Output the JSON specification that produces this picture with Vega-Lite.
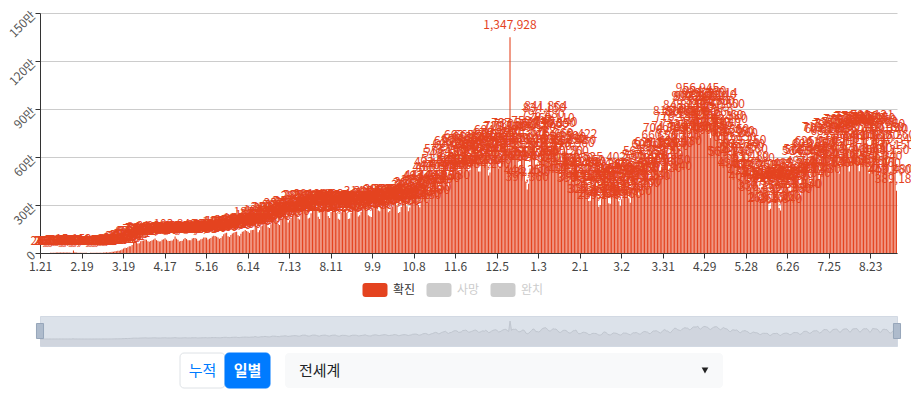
{
"$schema":"https://vega.github.io/schema/vega-lite/v6.json",
"padding":{"left":6,"top":8,"right":-8,"bottom":7},
"autosize":{"type":"pad"},
"background":"white",
"bounds":"flush",
"spacing":0,
"config":{"view":{"stroke":null},"font":"Noto Sans CJK KR","axis":{"labelFont":"Noto Sans CJK KR"},"text":{"font":"Noto Sans CJK KR"}},
"datasets":{"daily":[
{"d":"2020-01-21","v":282},{"d":"2020-01-22","v":32},{"d":"2020-01-23","v":267},{"d":"2020-01-24","v":265},{"d":"2020-01-25","v":468},{"d":"2020-01-26","v":693},{"d":"2020-01-27","v":776},{"d":"2020-01-28","v":1460},{"d":"2020-01-29","v":1739},{"d":"2020-01-30","v":1984},{"d":"2020-01-31","v":2101},
{"d":"2020-02-01","v":2590},{"d":"2020-02-02","v":2829},{"d":"2020-02-03","v":3235},{"d":"2020-02-04","v":3887},{"d":"2020-02-05","v":3697},{"d":"2020-02-06","v":3151},{"d":"2020-02-07","v":3387},{"d":"2020-02-08","v":2653},{"d":"2020-02-09","v":3001},{"d":"2020-02-10","v":2568},{"d":"2020-02-11","v":2034},{"d":"2020-02-12","v":1881},{"d":"2020-02-13","v":15152},{"d":"2020-02-14","v":4050},{"d":"2020-02-15","v":2644},{"d":"2020-02-16","v":2077},{"d":"2020-02-17","v":2097},{"d":"2020-02-18","v":1897},{"d":"2020-02-19","v":1751},{"d":"2020-02-20","v":850},{"d":"2020-02-21","v":1002},{"d":"2020-02-22","v":1009},{"d":"2020-02-23","v":649},{"d":"2020-02-24","v":417},{"d":"2020-02-25","v":889},{"d":"2020-02-26","v":929},{"d":"2020-02-27","v":1095},{"d":"2020-02-28","v":1289},{"d":"2020-02-29","v":1839},
{"d":"2020-03-01","v":1743},{"d":"2020-03-02","v":1804},{"d":"2020-03-03","v":2239},{"d":"2020-03-04","v":2238},{"d":"2020-03-05","v":2729},{"d":"2020-03-06","v":3882},{"d":"2020-03-07","v":3975},{"d":"2020-03-08","v":3722},{"d":"2020-03-09","v":3985},{"d":"2020-03-10","v":4395},{"d":"2020-03-11","v":7314},{"d":"2020-03-12","v":7669},{"d":"2020-03-13","v":10542},{"d":"2020-03-14","v":10904},{"d":"2020-03-15","v":13287},{"d":"2020-03-16","v":14541},{"d":"2020-03-17","v":16843},{"d":"2020-03-18","v":21578},{"d":"2020-03-19","v":28814},{"d":"2020-03-20","v":33281},{"d":"2020-03-21","v":31802},{"d":"2020-03-22","v":35187},{"d":"2020-03-23","v":41567},{"d":"2020-03-24","v":42009},{"d":"2020-03-25","v":49531},{"d":"2020-03-26","v":62380},{"d":"2020-03-27","v":64857},{"d":"2020-03-28","v":64932},{"d":"2020-03-29","v":59412},{"d":"2020-03-30","v":61275},{"d":"2020-03-31","v":73950},
{"d":"2020-04-01","v":77065},{"d":"2020-04-02","v":78420},{"d":"2020-04-03","v":84502},{"d":"2020-04-04","v":82610},{"d":"2020-04-05","v":73214},{"d":"2020-04-06","v":70180},{"d":"2020-04-07","v":75640},{"d":"2020-04-08","v":80320},{"d":"2020-04-09","v":85120},{"d":"2020-04-10","v":91284},{"d":"2020-04-11","v":80450},{"d":"2020-04-12","v":75980},{"d":"2020-04-13","v":71820},{"d":"2020-04-14","v":73510},{"d":"2020-04-15","v":82160},{"d":"2020-04-16","v":85340},{"d":"2020-04-17","v":91620},{"d":"2020-04-18","v":83250},{"d":"2020-04-19","v":77140},{"d":"2020-04-20","v":75480},{"d":"2020-04-21","v":76230},{"d":"2020-04-22","v":78560},{"d":"2020-04-23","v":86120},{"d":"2020-04-24","v":103840},{"d":"2020-04-25","v":89210},{"d":"2020-04-26","v":82340},{"d":"2020-04-27","v":72150},{"d":"2020-04-28","v":75620},{"d":"2020-04-29","v":77310},{"d":"2020-04-30","v":86450},
{"d":"2020-05-01","v":93180},{"d":"2020-05-02","v":87250},{"d":"2020-05-03","v":79410},{"d":"2020-05-04","v":78920},{"d":"2020-05-05","v":79350},{"d":"2020-05-06","v":90120},{"d":"2020-05-07","v":93450},{"d":"2020-05-08","v":94210},{"d":"2020-05-09","v":89340},{"d":"2020-05-10","v":77260},{"d":"2020-05-11","v":77480},{"d":"2020-05-12","v":85190},{"d":"2020-05-13","v":88320},{"d":"2020-05-14","v":96140},{"d":"2020-05-15","v":97480},{"d":"2020-05-16","v":95870},{"d":"2020-05-17","v":84320},{"d":"2020-05-18","v":89150},{"d":"2020-05-19","v":94280},{"d":"2020-05-20","v":103210},{"d":"2020-05-21","v":107340},{"d":"2020-05-22","v":106820},{"d":"2020-05-23","v":102150},{"d":"2020-05-24","v":96430},{"d":"2020-05-25","v":89260},{"d":"2020-05-26","v":94180},{"d":"2020-05-27","v":105320},{"d":"2020-05-28","v":117850},{"d":"2020-05-29","v":123460},{"d":"2020-05-30","v":127150},{"d":"2020-05-31","v":104320},
{"d":"2020-06-01","v":100460},{"d":"2020-06-02","v":112350},{"d":"2020-06-03","v":121480},{"d":"2020-06-04","v":127310},{"d":"2020-06-05","v":131250},{"d":"2020-06-06","v":133480},{"d":"2020-06-07","v":110240},{"d":"2020-06-08","v":105130},{"d":"2020-06-09","v":120360},{"d":"2020-06-10","v":133250},{"d":"2020-06-11","v":136480},{"d":"2020-06-12","v":143820},{"d":"2020-06-13","v":138260},{"d":"2020-06-14","v":132150},{"d":"2020-06-15","v":125340},{"d":"2020-06-16","v":142180},{"d":"2020-06-17","v":143460},{"d":"2020-06-18","v":145320},{"d":"2020-06-19","v":181230},{"d":"2020-06-20","v":160140},{"d":"2020-06-21","v":130250},{"d":"2020-06-22","v":142310},{"d":"2020-06-23","v":167420},{"d":"2020-06-24","v":171350},{"d":"2020-06-25","v":181260},{"d":"2020-06-26","v":191480},{"d":"2020-06-27","v":185320},{"d":"2020-06-28","v":161240},{"d":"2020-06-29","v":156380},{"d":"2020-06-30","v":179250},
{"d":"2020-07-01","v":212340},{"d":"2020-07-02","v":209860},{"d":"2020-07-03","v":208150},{"d":"2020-07-04","v":193240},{"d":"2020-07-05","v":181350},{"d":"2020-07-06","v":174260},{"d":"2020-07-07","v":210480},{"d":"2020-07-08","v":215320},{"d":"2020-07-09","v":225140},{"d":"2020-07-10","v":237250},{"d":"2020-07-11","v":225480},{"d":"2020-07-12","v":190360},{"d":"2020-07-13","v":204150},{"d":"2020-07-14","v":218320},{"d":"2020-07-15","v":235260},{"d":"2020-07-16","v":248140},{"d":"2020-07-17","v":252360},{"d":"2020-07-18","v":244850},{"d":"2020-07-19","v":215320},{"d":"2020-07-20","v":209460},{"d":"2020-07-21","v":240180},{"d":"2020-07-22","v":282350},{"d":"2020-07-23","v":285140},{"d":"2020-07-24","v":290260},{"d":"2020-07-25","v":258340},{"d":"2020-07-26","v":215480},{"d":"2020-07-27","v":220150},{"d":"2020-07-28","v":248360},{"d":"2020-07-29","v":287250},{"d":"2020-07-30","v":289640},{"d":"2020-07-31","v":291480},
{"d":"2020-08-01","v":262150},{"d":"2020-08-02","v":226340},{"d":"2020-08-03","v":213250},{"d":"2020-08-04","v":256480},{"d":"2020-08-05","v":273150},{"d":"2020-08-06","v":283260},{"d":"2020-08-07","v":290350},{"d":"2020-08-08","v":263140},{"d":"2020-08-09","v":231250},{"d":"2020-08-10","v":219360},{"d":"2020-08-11","v":255480},{"d":"2020-08-12","v":283150},{"d":"2020-08-13","v":284260},{"d":"2020-08-14","v":295340},{"d":"2020-08-15","v":250180},{"d":"2020-08-16","v":214260},{"d":"2020-08-17","v":208350},{"d":"2020-08-18","v":254140},{"d":"2020-08-19","v":277260},{"d":"2020-08-20","v":267350},{"d":"2020-08-21","v":272180},{"d":"2020-08-22","v":252340},{"d":"2020-08-23","v":212480},{"d":"2020-08-24","v":216150},{"d":"2020-08-25","v":251260},{"d":"2020-08-26","v":280340},{"d":"2020-08-27","v":282150},{"d":"2020-08-28","v":284260},{"d":"2020-08-29","v":271350},{"d":"2020-08-30","v":228140},{"d":"2020-08-31","v":235260},
{"d":"2020-09-01","v":257340},{"d":"2020-09-02","v":272180},{"d":"2020-09-03","v":290260},{"d":"2020-09-04","v":314350},{"d":"2020-09-05","v":262140},{"d":"2020-09-06","v":236250},{"d":"2020-09-07","v":230360},{"d":"2020-09-08","v":225480},{"d":"2020-09-09","v":280150},{"d":"2020-09-10","v":297260},{"d":"2020-09-11","v":313340},{"d":"2020-09-12","v":297180},{"d":"2020-09-13","v":265260},{"d":"2020-09-14","v":261350},{"d":"2020-09-15","v":283140},{"d":"2020-09-16","v":306250},{"d":"2020-09-17","v":318360},{"d":"2020-09-18","v":322480},{"d":"2020-09-19","v":293150},{"d":"2020-09-20","v":254260},{"d":"2020-09-21","v":262340},{"d":"2020-09-22","v":280180},{"d":"2020-09-23","v":290260},{"d":"2020-09-24","v":325350},{"d":"2020-09-25","v":326140},{"d":"2020-09-26","v":297250},{"d":"2020-09-27","v":250360},{"d":"2020-09-28","v":255480},{"d":"2020-09-29","v":288150},{"d":"2020-09-30","v":315260},
{"d":"2020-10-01","v":320340},{"d":"2020-10-02","v":324180},{"d":"2020-10-03","v":292260},{"d":"2020-10-04","v":260350},{"d":"2020-10-05","v":285140},{"d":"2020-10-06","v":304250},{"d":"2020-10-07","v":352360},{"d":"2020-10-08","v":360480},{"d":"2020-10-09","v":368150},{"d":"2020-10-10","v":355260},{"d":"2020-10-11","v":300340},{"d":"2020-10-12","v":286180},{"d":"2020-10-13","v":320260},{"d":"2020-10-14","v":378350},{"d":"2020-10-15","v":403140},{"d":"2020-10-16","v":413250},{"d":"2020-10-17","v":383360},{"d":"2020-10-18","v":317480},{"d":"2020-10-19","v":336150},{"d":"2020-10-20","v":388260},{"d":"2020-10-21","v":414340},{"d":"2020-10-22","v":460180},{"d":"2020-10-23","v":493260},{"d":"2020-10-24","v":465350},{"d":"2020-10-25","v":395140},{"d":"2020-10-26","v":406250},{"d":"2020-10-27","v":476360},{"d":"2020-10-28","v":511480},{"d":"2020-10-29","v":549150},{"d":"2020-10-30","v":573260},{"d":"2020-10-31","v":473340},
{"d":"2020-11-01","v":415180},{"d":"2020-11-02","v":474260},{"d":"2020-11-03","v":490350},{"d":"2020-11-04","v":564140},{"d":"2020-11-05","v":609250},{"d":"2020-11-06","v":625360},{"d":"2020-11-07","v":595480},{"d":"2020-11-08","v":505150},{"d":"2020-11-09","v":501260},{"d":"2020-11-10","v":538340},{"d":"2020-11-11","v":638180},{"d":"2020-11-12","v":638260},{"d":"2020-11-13","v":663350},{"d":"2020-11-14","v":616140},{"d":"2020-11-15","v":507250},{"d":"2020-11-16","v":518360},{"d":"2020-11-17","v":563480},{"d":"2020-11-18","v":603150},{"d":"2020-11-19","v":651260},{"d":"2020-11-20","v":665340},{"d":"2020-11-21","v":602180},{"d":"2020-11-22","v":509260},{"d":"2020-11-23","v":509350},{"d":"2020-11-24","v":568140},{"d":"2020-11-25","v":616250},{"d":"2020-11-26","v":578360},{"d":"2020-11-27","v":651480},{"d":"2020-11-28","v":585150},{"d":"2020-11-29","v":484260},{"d":"2020-11-30","v":503340},
{"d":"2020-12-01","v":584180},{"d":"2020-12-02","v":642260},{"d":"2020-12-03","v":676350},{"d":"2020-12-04","v":694140},{"d":"2020-12-05","v":627250},{"d":"2020-12-06","v":528360},{"d":"2020-12-07","v":542480},{"d":"2020-12-08","v":613150},{"d":"2020-12-09","v":676260},{"d":"2020-12-10","v":712340},{"d":"2020-12-11","v":720180},{"d":"2020-12-12","v":646260},{"d":"2020-12-13","v":555350},{"d":"2020-12-14","v":1347928},{"d":"2020-12-15","v":641250},{"d":"2020-12-16","v":737560},{"d":"2020-12-17","v":717480},{"d":"2020-12-18","v":730150},{"d":"2020-12-19","v":644260},{"d":"2020-12-20","v":532340},{"d":"2020-12-21","v":547180},{"d":"2020-12-22","v":613260},{"d":"2020-12-23","v":680350},{"d":"2020-12-24","v":634140},{"d":"2020-12-25","v":446250},{"d":"2020-12-26","v":397360},{"d":"2020-12-27","v":432480},{"d":"2020-12-28","v":528150},{"d":"2020-12-29","v":636260},{"d":"2020-12-30","v":752340},{"d":"2020-12-31","v":715180},
{"d":"2021-01-01","v":553260},{"d":"2021-01-02","v":558350},{"d":"2021-01-03","v":524140},{"d":"2021-01-04","v":578250},{"d":"2021-01-05","v":728360},{"d":"2021-01-06","v":796480},{"d":"2021-01-07","v":834150},{"d":"2021-01-08","v":841864},{"d":"2021-01-09","v":733260},{"d":"2021-01-10","v":612340},{"d":"2021-01-11","v":593180},{"d":"2021-01-12","v":676260},{"d":"2021-01-13","v":768110},{"d":"2021-01-14","v":736350},{"d":"2021-01-15","v":746140},{"d":"2021-01-16","v":658250},{"d":"2021-01-17","v":521360},{"d":"2021-01-18","v":484480},{"d":"2021-01-19","v":560150},{"d":"2021-01-20","v":639260},{"d":"2021-01-21","v":650340},{"d":"2021-01-22","v":634180},{"d":"2021-01-23","v":560260},{"d":"2021-01-24","v":450350},{"d":"2021-01-25","v":449140},{"d":"2021-01-26","v":516250},{"d":"2021-01-27","v":615360},{"d":"2021-01-28","v":628480},{"d":"2021-01-29","v":669422},{"d":"2021-01-30","v":492260},{"d":"2021-01-31","v":395340},
{"d":"2021-02-01","v":398180},{"d":"2021-02-02","v":451260},{"d":"2021-02-03","v":509350},{"d":"2021-02-04","v":492140},{"d":"2021-02-05","v":462250},{"d":"2021-02-06","v":415360},{"d":"2021-02-07","v":325480},{"d":"2021-02-08","v":327150},{"d":"2021-02-09","v":398260},{"d":"2021-02-10","v":424340},{"d":"2021-02-11","v":415180},{"d":"2021-02-12","v":410260},{"d":"2021-02-13","v":353350},{"d":"2021-02-14","v":289140},{"d":"2021-02-15","v":299250},{"d":"2021-02-16","v":338360},{"d":"2021-02-17","v":489480},{"d":"2021-02-18","v":525402},{"d":"2021-02-19","v":480260},{"d":"2021-02-20","v":377340},{"d":"2021-02-21","v":311180},{"d":"2021-02-22","v":308260},{"d":"2021-02-23","v":368350},{"d":"2021-02-24","v":451140},{"d":"2021-02-25","v":445250},{"d":"2021-02-26","v":425360},{"d":"2021-02-27","v":389480},{"d":"2021-02-28","v":323150},
{"d":"2021-03-01","v":293260},{"d":"2021-03-02","v":335340},{"d":"2021-03-03","v":456180},{"d":"2021-03-04","v":437260},{"d":"2021-03-05","v":441350},{"d":"2021-03-06","v":400140},{"d":"2021-03-07","v":342250},{"d":"2021-03-08","v":313360},{"d":"2021-03-09","v":398480},{"d":"2021-03-10","v":473150},{"d":"2021-03-11","v":460260},{"d":"2021-03-12","v":486340},{"d":"2021-03-13","v":437180},{"d":"2021-03-14","v":364260},{"d":"2021-03-15","v":375350},{"d":"2021-03-16","v":458140},{"d":"2021-03-17","v":537250},{"d":"2021-03-18","v":564360},{"d":"2021-03-19","v":530480},{"d":"2021-03-20","v":510150},{"d":"2021-03-21","v":409260},{"d":"2021-03-22","v":412340},{"d":"2021-03-23","v":520180},{"d":"2021-03-24","v":605260},{"d":"2021-03-25","v":597350},{"d":"2021-03-26","v":621140},{"d":"2021-03-27","v":567250},{"d":"2021-03-28","v":495360},{"d":"2021-03-29","v":455480},{"d":"2021-03-30","v":537150},{"d":"2021-03-31","v":660260},
{"d":"2021-04-01","v":704340},{"d":"2021-04-02","v":610180},{"d":"2021-04-03","v":595260},{"d":"2021-04-04","v":505350},{"d":"2021-04-05","v":471140},{"d":"2021-04-06","v":612250},{"d":"2021-04-07","v":717360},{"d":"2021-04-08","v":815480},{"d":"2021-04-09","v":776150},{"d":"2021-04-10","v":693260},{"d":"2021-04-11","v":656340},{"d":"2021-04-12","v":624180},{"d":"2021-04-13","v":732260},{"d":"2021-04-14","v":793350},{"d":"2021-04-15","v":848140},{"d":"2021-04-16","v":815250},{"d":"2021-04-17","v":809360},{"d":"2021-04-18","v":703480},{"d":"2021-04-19","v":714150},{"d":"2021-04-20","v":829260},{"d":"2021-04-21","v":904340},{"d":"2021-04-22","v":897180},{"d":"2021-04-23","v":903260},{"d":"2021-04-24","v":956945},{"d":"2021-04-25","v":795350},{"d":"2021-04-26","v":744140},{"d":"2021-04-27","v":847250},{"d":"2021-04-28","v":923360},{"d":"2021-04-29","v":934480},{"d":"2021-04-30","v":903150},
{"d":"2021-05-01","v":872260},{"d":"2021-05-02","v":742340},{"d":"2021-05-03","v":718180},{"d":"2021-05-04","v":806260},{"d":"2021-05-05","v":874350},{"d":"2021-05-06","v":910140},{"d":"2021-05-07","v":922514},{"d":"2021-05-08","v":854360},{"d":"2021-05-09","v":739480},{"d":"2021-05-10","v":691150},{"d":"2021-05-11","v":787260},{"d":"2021-05-12","v":857350},{"d":"2021-05-13","v":782180},{"d":"2021-05-14","v":763260},{"d":"2021-05-15","v":700350},{"d":"2021-05-16","v":564140},{"d":"2021-05-17","v":559250},{"d":"2021-05-18","v":679360},{"d":"2021-05-19","v":686480},{"d":"2021-05-20","v":650150},{"d":"2021-05-21","v":677260},{"d":"2021-05-22","v":607340},{"d":"2021-05-23","v":496180},{"d":"2021-05-24","v":480260},{"d":"2021-05-25","v":587350},{"d":"2021-05-26","v":608140},{"d":"2021-05-27","v":629250},{"d":"2021-05-28","v":575360},{"d":"2021-05-29","v":531480},{"d":"2021-05-30","v":435150},{"d":"2021-05-31","v":407260},
{"d":"2021-06-01","v":484340},{"d":"2021-06-02","v":521180},{"d":"2021-06-03","v":473260},{"d":"2021-06-04","v":474350},{"d":"2021-06-05","v":428140},{"d":"2021-06-06","v":350250},{"d":"2021-06-07","v":336360},{"d":"2021-06-08","v":412480},{"d":"2021-06-09","v":432150},{"d":"2021-06-10","v":419260},{"d":"2021-06-11","v":424340},{"d":"2021-06-12","v":392180},{"d":"2021-06-13","v":268260},{"d":"2021-06-14","v":276350},{"d":"2021-06-15","v":370140},{"d":"2021-06-16","v":413250},{"d":"2021-06-17","v":407360},{"d":"2021-06-18","v":421480},{"d":"2021-06-19","v":393150},{"d":"2021-06-20","v":281260},{"d":"2021-06-21","v":265340},{"d":"2021-06-22","v":372180},{"d":"2021-06-23","v":414260},{"d":"2021-06-24","v":432350},{"d":"2021-06-25","v":440140},{"d":"2021-06-26","v":408250},{"d":"2021-06-27","v":330360},{"d":"2021-06-28","v":325480},{"d":"2021-06-29","v":418150},{"d":"2021-06-30","v":482260},
{"d":"2021-07-01","v":485340},{"d":"2021-07-02","v":482180},{"d":"2021-07-03","v":448260},{"d":"2021-07-04","v":353350},{"d":"2021-07-05","v":358140},{"d":"2021-07-06","v":460250},{"d":"2021-07-07","v":564360},{"d":"2021-07-08","v":574480},{"d":"2021-07-09","v":569150},{"d":"2021-07-10","v":497260},{"d":"2021-07-11","v":426340},{"d":"2021-07-12","v":449180},{"d":"2021-07-13","v":565260},{"d":"2021-07-14","v":608350},{"d":"2021-07-15","v":610140},{"d":"2021-07-16","v":625250},{"d":"2021-07-17","v":549360},{"d":"2021-07-18","v":451480},{"d":"2021-07-19","v":494150},{"d":"2021-07-20","v":590260},{"d":"2021-07-21","v":713340},{"d":"2021-07-22","v":703180},{"d":"2021-07-23","v":697260},{"d":"2021-07-24","v":617350},{"d":"2021-07-25","v":489140},{"d":"2021-07-26","v":541250},{"d":"2021-07-27","v":686360},{"d":"2021-07-28","v":726480},{"d":"2021-07-29","v":735150},{"d":"2021-07-30","v":731260},{"d":"2021-07-31","v":637340},
{"d":"2021-08-01","v":496180},{"d":"2021-08-02","v":544260},{"d":"2021-08-03","v":699350},{"d":"2021-08-04","v":741140},{"d":"2021-08-05","v":760250},{"d":"2021-08-06","v":757360},{"d":"2021-08-07","v":660480},{"d":"2021-08-08","v":509150},{"d":"2021-08-09","v":571260},{"d":"2021-08-10","v":751340},{"d":"2021-08-11","v":759180},{"d":"2021-08-12","v":777260},{"d":"2021-08-13","v":779350},{"d":"2021-08-14","v":654140},{"d":"2021-08-15","v":510250},{"d":"2021-08-16","v":574360},{"d":"2021-08-17","v":720480},{"d":"2021-08-18","v":769150},{"d":"2021-08-19","v":761260},{"d":"2021-08-20","v":777340},{"d":"2021-08-21","v":661180},{"d":"2021-08-22","v":497260},{"d":"2021-08-23","v":578350},{"d":"2021-08-24","v":790121},{"d":"2021-08-25","v":769250},{"d":"2021-08-26","v":758360},{"d":"2021-08-27","v":743480},{"d":"2021-08-28","v":665150},{"d":"2021-08-29","v":487260},{"d":"2021-08-30","v":531340},{"d":"2021-08-31","v":711180},
{"d":"2021-09-01","v":729260},{"d":"2021-09-02","v":707350},{"d":"2021-09-03","v":699140},{"d":"2021-09-04","v":568250},{"d":"2021-09-05","v":443360},{"d":"2021-09-06","v":450480},{"d":"2021-09-07","v":597150},{"d":"2021-09-08","v":660260},{"d":"2021-09-09","v":640340},{"d":"2021-09-10","v":389180}
]},
"vconcat":[
{
"width":857,"height":240,
"data":{"name":"daily"},
"encoding":{
"x":{"field":"d","type":"ordinal","scale":{"paddingInner":0.25,"paddingOuter":0,"align":0},
"axis":{"title":null,"values":["2020-01-21","2020-02-19","2020-03-19","2020-04-17","2020-05-16","2020-06-14","2020-07-13","2020-08-11","2020-09-09","2020-10-08","2020-11-06","2020-12-05","2021-01-03","2021-02-01","2021-03-02","2021-03-31","2021-04-29","2021-05-28","2021-06-26","2021-07-25","2021-08-23"],
"labelExpr":"parseInt(slice(datum.value,5,7)) + '.' + parseInt(slice(datum.value,8,10))",
"labelAngle":0,"labelColor":"#444","labelFontSize":12,"labelPadding":3,"domainColor":"#333","tickColor":"#333","tickSize":5,"grid":false,"labelOverlap":false,"labelFlush":false,"zindex":1}},
"y":{"field":"v","type":"quantitative","scale":{"domain":[0,1500000],"nice":false},
"axis":{"title":null,"values":[0,300000,600000,900000,1200000,1500000],"labelExpr":"datum.value == 0 ? '0' : (datum.value/10000) + '만'","labelAngle":-45,"labelAlign":"right","labelBaseline":"middle","labelColor":"#555","labelFontSize":12,"labelPadding":2,"domainColor":"#333","tickColor":"#333","tickSize":5,"gridColor":"#cccccc"}}
},
"layer":[
{"mark":{"type":"bar","color":"#e4431f"}},
{"mark":{"type":"text","color":"#e4431f","baseline":"bottom","dy":-5,"fontSize":12},"encoding":{"text":{"field":"v","type":"quantitative","format":","}}}
]
},
{
"width":857,"height":11,
"data":{"values":[{"t":""}]},
"mark":{"type":"text"},"encoding":{"text":{"field":"t"}}
},
{
"width":798,"height":52,
"data":{"values":[{"k":"확진"},{"k":"사망"},{"k":"완치"}]},
"encoding":{"x":{"field":"k","type":"nominal","sort":["확진","사망","완치"],"scale":{"type":"point","range":[335,463],"padding":0},"axis":null}},
"layer":[
{"mark":{"type":"point","shape":"M-0.76,-0.56L0.76,-0.56Q1,-0.56 1,-0.32L1,0.32Q1,0.56 0.76,0.56L-0.76,0.56Q-1,0.56 -1,0.32L-1,-0.32Q-1,-0.56 -0.76,-0.56Z","size":625,"filled":true,"opacity":1,"strokeWidth":0},
"encoding":{"color":{"condition":{"test":"datum.k === '확진'","value":"#e4431f"},"value":"#cccccc"}}},
{"mark":{"type":"text","align":"left","dx":18,"fontSize":12},
"encoding":{"text":{"field":"k"},"color":{"condition":{"test":"datum.k === '확진'","value":"#333333"},"value":"#cccccc"}}}
]
},
{
"width":857,"height":30,"view":{"fill":"#dce2ea","stroke":"#d2d9e3"},
"layer":[
{"data":{"name":"daily"},
"mark":{"type":"area","color":"#d0d5de","opacity":1,"line":{"color":"#c0c6cf","strokeWidth":1}},
"encoding":{"x":{"field":"d","type":"ordinal","scale":{"type":"point","padding":0},"axis":null},
"y":{"field":"v","type":"quantitative","scale":{"domain":[-524194,1722353],"nice":false,"zero":false},"axis":null},
"y2":{"datum":-524194}}},
{"data":{"values":[{"d":"2020-01-21"},{"d":"2021-09-10"}]},
"mark":{"type":"point","shape":"M-0.47,-1H0.47V1H-0.47Z","size":225,"filled":true,"opacity":1,"color":"#aebbcc","stroke":"#97a6ba","strokeWidth":1},
"encoding":{"x":{"field":"d","type":"ordinal"}}}
]
},
{
"width":857,"height":7,
"data":{"values":[{"t":""}]},
"mark":{"type":"text"},"encoding":{"text":{"field":"t"}}
},
{
"hconcat":[
{"width":139,"height":35,"data":{"values":[{"t":""}]},"mark":{"type":"text"},"encoding":{"text":{"field":"t"}}},
{"width":90,"height":35,
"data":{"values":[{"t":"누적"},{"t":"일별"}]},
"encoding":{"x":{"field":"t","type":"nominal","sort":["누적","일별"],"scale":{"paddingInner":0,"paddingOuter":0},"axis":null}},
"layer":[
{"mark":{"type":"rect","cornerRadius":4,"strokeWidth":1},"encoding":{"fill":{"condition":{"test":"datum.t === '누적'","value":"#ffffff"},"value":"#007bff"},"stroke":{"condition":{"test":"datum.t === '누적'","value":"#dee2e6"},"value":"#007bff"}}},
{"transform":[{"filter":"datum.t === '누적'"}],"mark":{"type":"text","fontSize":15,"color":"#007bff"},"encoding":{"text":{"field":"t"}}},
{"transform":[{"filter":"datum.t === '일별'"}],"mark":{"type":"text","fontSize":15,"color":"#ffffff","fontWeight":"bold"},"encoding":{"text":{"field":"t"}}}
]},
{"width":14,"height":35,"data":{"values":[{"t":""}]},"mark":{"type":"text"},"encoding":{"text":{"field":"t"}}},
{"width":438,"height":35,"view":{"fill":"#f8f9fa","cornerRadius":4},
"layer":[
{"data":{"values":[{"t":"전세계"}]},"mark":{"type":"text","fontSize":15,"color":"#212529","align":"left"},"encoding":{"x":{"field":"t","type":"nominal","sort":["전세계","▼"],"scale":{"type":"point","range":[14,420],"padding":0},"axis":null},"text":{"field":"t"}}},
{"data":{"values":[{"t":"▼"}]},"mark":{"type":"point","shape":"triangle-down","size":45,"filled":true,"opacity":1,"color":"#222222"},"encoding":{"x":{"field":"t","type":"nominal","sort":["전세계","▼"]}}}
]}
],
"spacing":0
}
]
}
